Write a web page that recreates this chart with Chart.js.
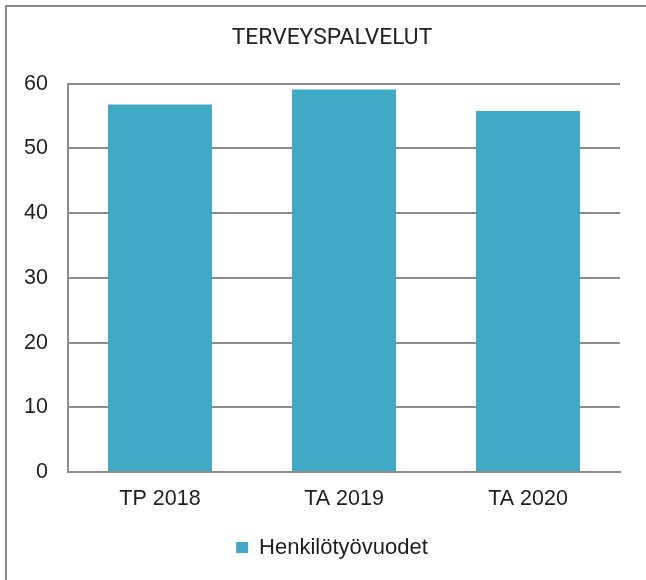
<!DOCTYPE html>
<html>
<head>
<meta charset="utf-8">
<script src="https://cdn.jsdelivr.net/npm/chart.js@4/dist/chart.umd.min.js"></script>
<style>
  html, body { margin: 0; padding: 0; background: #fff; }
  #wrap { position: relative; width: 646px; height: 580px; overflow: hidden; }
  #frame { position: absolute; left: 5px; top: 5px; width: 700px; height: 700px;
           border-left: 2px solid #8a8a8a; border-top: 2px solid #8a8a8a; }
  canvas { position: absolute; left: 0; top: 0; }
</style>
</head>
<body>
<div id="wrap">
  <div id="frame"></div>
  <canvas id="chart" width="646" height="580"></canvas>
</div>
<script>
const title = 'TERVEYSPALVELUT';
const categories = ['TP 2018', 'TA 2019', 'TA 2020'];
const seriesName = 'Henkilötyövuodet';
const values = [56.8, 59.1, 55.8];

const barColor = '#40aac6';
const gridColor = '#8c8c8c';
const textColor = '#1e1e1e';
const arial = '"Liberation Sans", Arial, sans-serif';
const tickFont = { family: arial, size: 21.5 };

// title and legend sit centred a bit right of the canvas centre
const shiftBlocks = {
  id: 'shiftBlocks',
  afterLayout(chart) {
    [chart.titleBlock, chart.legend].forEach(b => {
      if (!b) return;
      b.left += 22;
      b.right += 22;
    });
  }
};

new Chart(document.getElementById('chart'), {
  type: 'bar',
  data: {
    labels: categories,
    datasets: [{
      label: seriesName,
      data: values,
      backgroundColor: barColor,
      categoryPercentage: 1,
      barPercentage: 0.565
    }]
  },
  options: {
    responsive: false,
    animation: false,
    layout: { padding: { left: 0, right: 26, top: 0, bottom: 11.5 } },
    plugins: {
      title: {
        display: true,
        text: title,
        color: '#222',
        font: { family: 'Roboto, sans-serif', size: 22.8, weight: 'normal' },
        padding: { top: 24.8, bottom: 31.6 }
      },
      legend: {
        position: 'bottom',
        labels: {
          color: textColor,
          font: { family: arial, size: 22 },
          boxWidth: 12,
          boxHeight: 11,
          padding: 10
        }
      },
      tooltip: { enabled: false }
    },
    scales: {
      x: {
        grid: { display: false, drawTicks: false },
        border: { display: true, color: gridColor, width: 2 },
        ticks: { color: textColor, font: tickFont, padding: 14 },
        afterFit: (scale) => { scale.height = 54.5; }
      },
      y: {
        min: 0,
        max: 60,
        ticks: { stepSize: 10, color: textColor, font: tickFont, padding: 20 },
        grid: { color: gridColor, lineWidth: 2, drawTicks: false },
        border: { display: true, color: gridColor, width: 2 },
        afterFit: (scale) => { scale.width = 68; }
      }
    }
  },
  plugins: [shiftBlocks]
});
</script>
</body>
</html>
